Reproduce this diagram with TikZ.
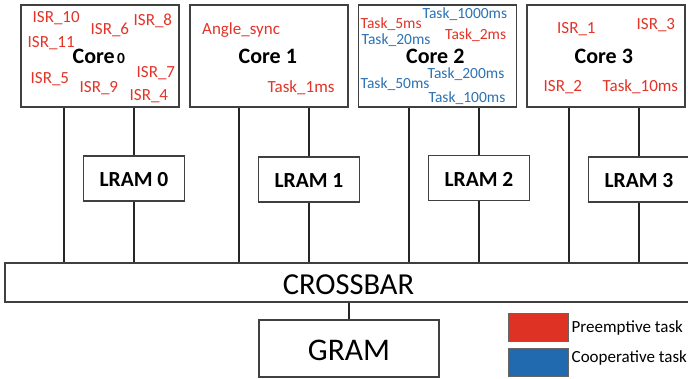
\documentclass[tikz,border=0pt]{standalone}
\usepackage{fontspec}
\setmainfont{Carlito}
\definecolor{pred}{RGB}{226,52,40}
\definecolor{cblue}{RGB}{44,114,180}
\definecolor{legred}{RGB}{221,50,36}
\definecolor{legblue}{RGB}{33,106,176}
\tikzset{
  box/.style={draw=black!75, line width=1.3pt, fill=white, inner sep=0pt},
  corebox/.style={box, minimum width=158pt, minimum height=102pt},
  lrambox/.style={box, minimum width=101pt, minimum height=45pt},
  wire/.style={draw=black!85, line width=1.3pt},
  lbl/.style={inner sep=0pt, anchor=base west, font=\fontsize{17}{20}\selectfont},
  rl/.style={lbl, text=pred},
  bl/.style={lbl, text=cblue},
  rs/.style={lbl, text=pred, font=\fontsize{15.5}{18}\selectfont},
  bs/.style={lbl, text=cblue, font=\fontsize{15.5}{18}\selectfont},
  coretxt/.style={inner sep=0pt, anchor=base west, font=\fontsize{22}{26}\selectfont\bfseries},
  lramtxt/.style={inner sep=0pt, anchor=base, font=\fontsize{21.5}{26}\selectfont\bfseries},
  legtxt/.style={inner sep=0pt, anchor=base west, font=\fontsize{17}{20}\selectfont},
}
\begin{document}
\begin{tikzpicture}[x=1pt, y=-1pt]
\clip (0,0) rectangle (688,379);
\fill[white] (0,0) rectangle (688,379);
% cores
\node[corebox] (c0) at (100,56) {};
\node[corebox] (c1) at (269,56) {};
\node[corebox] (c2) at (437.5,56) {};
\node[corebox] (c3) at (606,56) {};
% crossbar and gram
\node[box, minimum width=695pt, minimum height=39pt] (xbar) at (352.5,282.5) {};
\node[inner sep=0pt, anchor=base, font=\fontsize{30.5}{36}\selectfont] (xbart) at (348.5,294.3) {CROSSBAR};
\node[box, minimum width=180pt, minimum height=57pt] (gram) at (349,348.5) {};
\node[inner sep=0pt, anchor=base, font=\fontsize{31.5}{36}\selectfont] (gramt) at (349,360) {GRAM};
\draw[wire] (gram.north) -- (gram.north |- xbar.south);
% lram
\node[lrambox] (l0) at (134,178.5) {};
\node[lrambox] (l1) at (309,179.5) {};
\node[lrambox] (l2) at (479,178) {};
\node[lrambox] (l3) at (639,179.5) {};
\node[lramtxt] (l0t) at (134,186.7) {LRAM 0};
\node[lramtxt] (l1t) at (309,187.3) {LRAM 1};
\node[lramtxt] (l2t) at (479,186.5) {LRAM 2};
\node[lramtxt] (l3t) at (639,187.3) {LRAM 3};
% wires
\coordinate (v0) at (64,0);
\coordinate (v1) at (239,0);
\coordinate (v2) at (409,0);
\coordinate (v3) at (569,0);
\foreach \c/\v in {c0/v0,c1/v1,c2/v2,c3/v3}{
  \draw[wire] (\v |- \c.south) -- (\v |- xbar.north);
}
\foreach \c/\l in {c0/l0,c1/l1,c2/l2,c3/l3}{
  \draw[wire] (\l.north) -- (\l.north |- \c.south);
  \draw[wire] (\l.south) -- (\l.south |- xbar.north);
}
% Core 0 labels
\node[coretxt] (c0t) at (72.5,64) {Core};
\node[inner sep=0pt, anchor=base west, font=\fontsize{15.5}{18}\selectfont\bfseries] (c0n) at (117,64) {0};
\node[rl] (isr10) at (32.5,22.7) {ISR\_10};
\node[rl] (isr6) at (90.5,35) {ISR\_6};
\node[rl] (isr8) at (133.5,26) {ISR\_8};
\node[rl] (isr11) at (27.5,47.7) {ISR\_11};
\node[rl] (isr5) at (30.5,83.7) {ISR\_5};
\node[rl] (isr9) at (79.5,92.7) {ISR\_9};
\node[rl] (isr7) at (136.5,77.3) {ISR\_7};
\node[rl] (isr4) at (129.5,101) {ISR\_4};
% Core 1 labels
\node[coretxt] (c1t) at (238.5,63.3) {Core 1};
\node[rl] (angle) at (202,35) {Angle\_sync};
\node[rl] (t1) at (267.5,92.7) {Task\_1ms};
% Core 2 labels
\node[coretxt] (c2t) at (406,64) {Core 2};
\node[bs] (t1000) at (422.5,18.3) {Task\_1000ms};
\node[rs] (t5) at (360.5,28.3) {Task\_5ms};
\node[rs] (t2) at (445,39.3) {Task\_2ms};
\node[bs] (t20) at (361.5,45) {Task\_20ms};
\node[bs] (t200) at (427.5,78.3) {Task\_200ms};
\node[bs] (t50) at (360.5,88.3) {Task\_50ms};
\node[bs] (t100) at (428.5,102.7) {Task\_100ms};
% Core 3 labels
\node[coretxt] (c3t) at (574.5,64) {Core 3};
\node[rl] (isr1) at (557,33.3) {ISR\_1};
\node[rl] (isr3) at (636.5,29.3) {ISR\_3};
\node[rl] (isr2) at (543.5,91.7) {ISR\_2};
\node[rl] (t10) at (602.5,91.7) {Task\_10ms};
% legend
\node[draw=black!60, line width=0.6pt, fill=legred, minimum width=60pt, minimum height=28pt, inner sep=0pt] (legr) at (538,327) {};
\node[draw=black!60, line width=0.6pt, fill=legblue, minimum width=60pt, minimum height=28pt, inner sep=0pt] (legb) at (538,362) {};
\node[legtxt] (legrt) at (571.5,333) {Preemptive task};
\node[legtxt] (legbt) at (571.5,362.7) {Cooperative task};
\end{tikzpicture}
\end{document}
